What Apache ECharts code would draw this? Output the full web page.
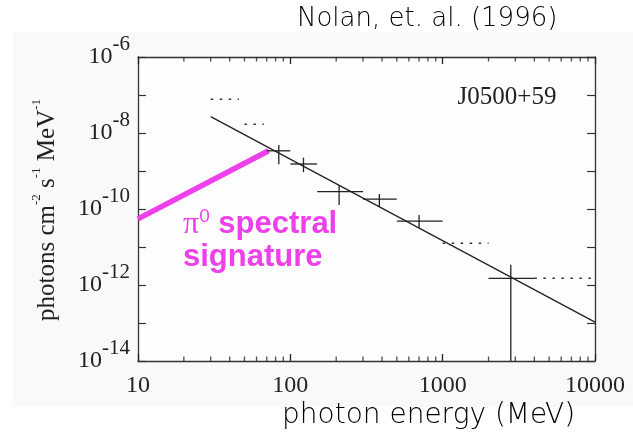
<!DOCTYPE html>
<html><head><meta charset="utf-8">
<script src="https://cdn.jsdelivr.net/npm/echarts@6/dist/echarts.min.js"></script>
<style>html,body{margin:0;padding:0;background:#fff}#c{width:633px;height:446px}</style>
</head><body><div id="c"></div>
<script>
// tick labels
const xTickLabels = ['10', '100', '1000', '10000'];
const yTickExponents = [-14, -12, -10, -8, -6];
const xMinorTicks = [20, 30, 40, 50, 60, 70, 80, 90, 200, 300, 400, 500, 600, 700, 800, 900, 2000, 3000, 4000, 5000, 6000, 7000, 8000, 9000];
// measured points (energy bins in MeV, flux in photons cm^-2 s^-1 MeV^-1)
const binLow = [70, 100, 150, 300, 500, 2000];
const binHigh = [100, 150, 300, 500, 1000, 4000];
const binCenter = [84, 122, 209, 384, 700, 2800];
const flux = [3.4e-9, 1.53e-9, 2.85e-10, 1.83e-10, 4.8e-11, 1.5e-12];
const fluxLow = [1.5e-9, 9.3e-10, 1.27e-10, 1.15e-10, 3.1e-11, 1e-14];
const fluxHigh = [4.8e-9, 2.24e-9, 4.3e-10, 2.5e-10, 7e-11, 3.4e-12];
// upper limits (dotted)
const ulLow = [30, 50, 1000, 4000];
const ulHigh = [46, 67, 2000, 10000];
const ulFlux = [7.7e-8, 1.7e-8, 1.25e-11, 1.5e-12];
// power-law fit
const fitEnergy = [30, 10000];
const fitFlux = [2.7e-8, 1.05e-13];
// pi0 signature line
const pionEnergy = [10, 72];
const pionFlux = [5.5e-11, 3.4e-9];

const xMin = 10, xMax = 10000, yMin = 1e-14, yMax = 1e-6;
const INK = '#222';
const PINK = '#ee40ea';
const HAND = 'DejaVu Sans';

const chart = echarts.init(document.getElementById('c'));

const errData = binLow.map((l, i) => [l, binHigh[i], binCenter[i], flux[i], fluxLow[i], fluxHigh[i]]);
const ulData = ulLow.map((l, i) => [l, ulHigh[i], ulFlux[i]]);

const axisLineStyle = { color: '#333', width: 1.3 };

chart.setOption({
  animation: false,
  backgroundColor: '#fff',
  grid: { left: 138, top: 57, width: 457, height: 304 },
  xAxis: [{
    type: 'log', logBase: 10, min: xMin, max: xMax,
    axisLine: { lineStyle: axisLineStyle },
    axisTick: { inside: true, length: 7, lineStyle: { color: '#222', width: 1.3 } },
    splitLine: { show: false },
    axisLabel: {
      margin: 13, fontSize: 24, fontFamily: 'Liberation Serif', color: '#222',
      formatter: v => { const s = xTickLabels.find(t => Number(t) === Math.round(v)); return s || ''; }
    }
  }, {
    type: 'log', logBase: 10, min: xMin, max: xMax, position: 'top',
    axisLine: { lineStyle: axisLineStyle },
    axisTick: { inside: true, length: 7, lineStyle: { color: '#222', width: 1.3 } },
    splitLine: { show: false }, axisLabel: { show: false }
  }],
  yAxis: [{
    type: 'log', logBase: 10, min: yMin, max: yMax, interval: 1,
    axisLine: { lineStyle: axisLineStyle },
    axisTick: { inside: true, length: 8, lineStyle: { color: '#333', width: 1.2 } },
    splitLine: { show: false },
    axisLabel: {
      margin: 8, color: '#222',
      formatter: v => {
        const e = Math.round(Math.log10(v));
        return yTickExponents.includes(e) ? '{b|10}{e|' + e + '}' : '';
      },
      rich: {
        b: { fontSize: 24, fontFamily: 'Liberation Serif', lineHeight: 50, color: '#222' },
        e: { fontSize: 21, fontFamily: 'Liberation Serif', lineHeight: 24, padding: [0, 0, 26, 0], color: '#222' }
      }
    }
  }, {
    type: 'log', logBase: 10, min: yMin, max: yMax, interval: 1, position: 'right',
    axisLine: { lineStyle: axisLineStyle },
    axisTick: { inside: true, length: 8, lineStyle: { color: '#333', width: 1.2 } },
    splitLine: { show: false }, axisLabel: { show: false }
  }],
  series: [{
    type: 'scatter', name: 'minor ticks bottom', silent: true, clip: false, z: 6,
    data: xMinorTicks.map(v => [v, yMin]),
    symbol: 'rect', symbolSize: [1.3, 4.5], symbolOffset: [0, -2.25],
    itemStyle: { color: '#222' }
  }, {
    type: 'scatter', name: 'minor ticks top', silent: true, clip: false, z: 6,
    data: xMinorTicks.map(v => [v, yMax]),
    symbol: 'rect', symbolSize: [1.3, 4.5], symbolOffset: [0, 2.25],
    itemStyle: { color: '#222' }
  }, {
    type: 'line', name: 'pi0', data: pionEnergy.map((e, i) => [e, pionFlux[i]]),
    showSymbol: false, symbol: 'none', z: 3,
    lineStyle: { color: PINK, width: 5.5, cap: 'butt' }
  }, {
    type: 'line', name: 'fit', data: fitEnergy.map((e, i) => [e, fitFlux[i]]),
    showSymbol: false, symbol: 'none', z: 4,
    lineStyle: { color: INK, width: 1.3 }
  }, {
    type: 'custom', name: 'points', z: 5,
    data: errData, encode: { x: [0, 1, 2], y: [3, 4, 5] },
    renderItem: (params, api) => {
      const p1 = api.coord([api.value(0), api.value(3)]);
      const p2 = api.coord([api.value(1), api.value(3)]);
      const p3 = api.coord([api.value(2), api.value(4)]);
      const p4 = api.coord([api.value(2), api.value(5)]);
      const st = { stroke: INK, lineWidth: 1.3 };
      return { type: 'group', children: [
        { type: 'line', shape: { x1: p1[0], y1: p1[1], x2: p2[0], y2: p2[1] }, style: st },
        { type: 'line', shape: { x1: p3[0], y1: p3[1], x2: p4[0], y2: p4[1] }, style: st }
      ]};
    }
  }, {
    type: 'custom', name: 'upper limits', z: 5,
    data: ulData, encode: { x: [0, 1], y: 2 },
    renderItem: (params, api) => {
      const a = api.coord([api.value(0), api.value(2)]);
      const b = api.coord([api.value(1), api.value(2)]);
      return { type: 'line', shape: { x1: a[0], y1: a[1], x2: b[0], y2: b[1] },
        style: { stroke: '#333', lineWidth: 1.5, lineDash: [2.5, 6.5] } };
    }
  }],
  graphic: [
    { type: 'rect', z: -10, silent: true, shape: { x: 13, y: 32, width: 620, height: 375 }, style: { fill: '#f9f9f9' } },
    { type: 'rect', z: -9, silent: true, shape: { x: 138, y: 57, width: 457, height: 304 }, style: { fill: '#fdfdfd' } },
    { type: 'text', left: 297, top: 6, silent: true,
      style: { text: 'Nolan, et. al. (1996)', fontSize: 26, fontWeight: 200, fontFamily: HAND, fill: '#000' } },
    { type: 'text', x: 507, y: 97, silent: true,
      style: { text: 'J0500+59', fontSize: 25, fontFamily: 'Liberation Serif', fill: '#222', align: 'center', verticalAlign: 'middle' } },
    { type: 'text', x: 183, y: 208, z: 10, silent: true,
      style: {
        text: '{pi|π}{z|0}{t| spectral}\n{t|signature}', align: 'left', verticalAlign: 'top',
        rich: {
          pi: { fontSize: 32, fontFamily: 'Liberation Serif', fill: PINK, lineHeight: 33, verticalAlign: 'middle' },
          z: { fontSize: 19, fontFamily: 'Liberation Sans', fill: PINK, lineHeight: 17, padding: [0, 0, 16, 0], verticalAlign: 'middle' },
          t: { fontSize: 31, fontFamily: 'Liberation Sans', fontWeight: 'bold', fill: PINK, lineHeight: 33, verticalAlign: 'middle' }
        }
      } },
    { type: 'text', x: 47, y: 210, rotation: Math.PI / 2, silent: true,
      style: {
        text: '{m|photons cm}{s|-2}{m| s}{s|-1}{m| MeV}{s|-1}', align: 'center', verticalAlign: 'middle',
        rich: {
          m: { fontSize: 25, fontFamily: 'Liberation Serif', fill: '#222', lineHeight: 36, verticalAlign: 'middle' },
          s: { fontSize: 13, fontFamily: 'Liberation Serif', fill: '#222', lineHeight: 16, padding: [0, 0, 20, 0], verticalAlign: 'middle' }
        }
      } },
    { type: 'text', left: 282, top: 402, silent: true,
      style: { text: 'photon energy (MeV)', fontSize: 28, fontWeight: 200, fontFamily: HAND, fill: '#000' } }
  ]
});
</script></body></html>
